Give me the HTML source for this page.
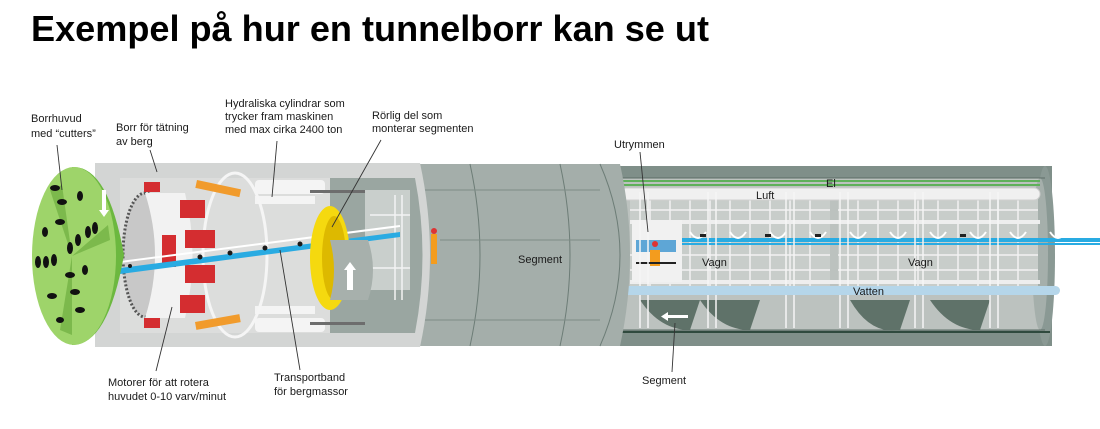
<!DOCTYPE html>
<html><head><meta charset="utf-8"><style>
html,body{margin:0;padding:0;background:#fff;width:1100px;height:429px;overflow:hidden}
svg{display:block}
text{font-family:"Liberation Sans",sans-serif;fill:#1a1a1a}
.l{font-size:11px}
</style></head><body>
<svg width="1100" height="429" viewBox="0 0 1100 429" xmlns="http://www.w3.org/2000/svg">
<text x="31" y="41" textLength="678" lengthAdjust="spacingAndGlyphs" style="font-size:36px;font-weight:bold;fill:#000">Exempel på hur en tunnelborr kan se ut</text>

<!-- back tunnel -->
<rect x="600" y="166" width="452" height="180" fill="#7f8f89"/>
<rect x="615" y="178" width="430" height="152" fill="#bcc2bf"/>
<ellipse cx="1045" cy="256" rx="10" ry="90" fill="#8a9994"/>
<ellipse cx="1040" cy="254" rx="8" ry="76" fill="#a5afab"/>
<g stroke="#5d6d67" stroke-width="1">
<line x1="615" y1="178" x2="1045" y2="178"/><line x1="615" y1="330" x2="1045" y2="330"/>
</g>
<rect x="620" y="180" width="420" height="2" fill="#5fb05a"/>
<rect x="620" y="184" width="420" height="2" fill="#5fb05a"/>
<g fill="#5f7269">
<path d="M640 300 Q660 330 690 330 L700 300Z"/><path d="M700 300 Q720 330 750 330 L760 300Z"/><path d="M850 300 Q870 335 900 330 L910 300Z"/><path d="M930 300 Q950 330 980 330 L990 300Z"/>
</g>
<rect x="630" y="192" width="200" height="100" fill="#c8cdca"/>
<rect x="838" y="192" width="200" height="100" fill="#c8cdca"/>
<g stroke="#f2f2f2" stroke-width="1.5" fill="none">
<path d="M630 210H830M630 222H830M630 255H830M630 270H830M838 210H1038M838 222H1038M838 255H1038M838 270H1038"/>
<path d="M650 192V290M670 192V290M690 192V290M710 192V290M730 192V290M750 192V290M770 192V290M790 192V290M810 192V290M858 192V290M878 192V290M898 192V290M918 192V290M938 192V290M958 192V290M978 192V290M998 192V290M1018 192V290"/>
</g>
<rect x="630" y="220" width="410" height="4" fill="#eeeeee"/>
<rect x="630" y="280" width="410" height="4" fill="#eeeeee"/>
<rect x="620" y="188" width="420" height="12" rx="6" fill="#f0f0f0" stroke="#cfcfcf"/>
<rect x="680" y="238" width="420" height="4" fill="#29abe2"/>
<rect x="680" y="243" width="420" height="2" fill="#29abe2"/>
<g stroke="#fff" stroke-width="2" fill="none">
<path d="M690 232q8 12 16 0M730 232q8 12 16 0M770 232q8 12 16 0M810 232q8 12 16 0M850 232q8 12 16 0M890 232q8 12 16 0M930 232q8 12 16 0M970 232q8 12 16 0M1010 232q8 12 16 0M1050 232q8 12 16 0"/>
</g>
<g fill="#222"><rect x="700" y="234" width="6" height="3"/><rect x="765" y="234" width="6" height="3"/><rect x="815" y="234" width="6" height="3"/><rect x="960" y="234" width="6" height="3"/></g>
<rect x="632" y="220" width="50" height="62" fill="#f1f1f1"/>
<rect x="636" y="240" width="40" height="12" fill="#5ea6d6"/>
<circle cx="655" cy="244" r="3" fill="#d33"/>
<rect x="650" y="250" width="10" height="16" fill="#f39c1e"/>
<rect x="636" y="262" width="40" height="2" fill="#222"/>
<g stroke="#f5f5f5" stroke-width="1.5">
<path d="M640 192V328M648 192V328M708 192V328M716 192V328M786 192V328M794 192V328M840 192V328M848 192V328M915 192V328M923 192V328M990 192V328M998 192V328"/>
</g>
<rect x="620" y="286" width="440" height="9" rx="4.5" fill="#b5d6ea"/>
<rect x="620" y="331" width="430" height="2" fill="#2f4a3e"/>
<path d="M668 318h20v-3h-20v-3l-7 4.5 7 4.5z" fill="#fff"/>

<!-- second cylinder -->
<path d="M420 164H620Q640 255 620 346H420Z" fill="#a4aeaa"/>
<path d="M600 164Q640 255 600 346" stroke="#6d7d77" fill="none"/>
<path d="M560 164Q580 255 560 346" stroke="#6d7d77" fill="none"/>
<path d="M470 164Q490 255 470 346" stroke="#6d7d77" fill="none"/>
<line x1="420" y1="190" x2="600" y2="190" stroke="#7e8c87"/>
<line x1="420" y1="320" x2="600" y2="320" stroke="#7e8c87"/>
<line x1="440" y1="240" x2="600" y2="240" stroke="#7e8c87"/>

<!-- front shield -->
<path d="M95 163H420Q440 255 420 347H95Z" fill="#d3d5d4"/>
<path d="M120 178H415Q425 255 415 333H120Z" fill="#dcdddc"/>
<path d="M330 178H415Q430 255 415 333H330Z" fill="#9aa6a1"/>
<rect x="365" y="190" width="45" height="100" fill="#c9cfcc"/>
<g stroke="#f3f3f3" stroke-width="1.5"><path d="M370 215H410M370 268H410M395 195V300M402 195V300"/></g>
<g fill="#f4f4f4"><rect x="255" y="180" width="70" height="14" rx="4"/><rect x="255" y="318" width="70" height="14" rx="4"/><rect x="255" y="196" width="60" height="8"/><rect x="255" y="306" width="60" height="8"/></g>
<g fill="#6d6d6d"><rect x="310" y="190" width="55" height="3"/><rect x="310" y="322" width="55" height="3"/></g>
<ellipse cx="235" cy="255" rx="32" ry="82" fill="none" stroke="#f5f5f5" stroke-width="3"/>
<ellipse cx="145" cy="255" rx="22" ry="62" fill="#c8c8c8" stroke="#555" stroke-width="3" stroke-dasharray="2 2"/>
<path d="M145 193H185Q200 255 185 318H145Q165 255 145 193Z" fill="#f2f2f2"/>
<g fill="#d42d30">
<rect x="180" y="200" width="25" height="18"/><rect x="185" y="230" width="30" height="18"/><rect x="185" y="265" width="30" height="18"/><rect x="180" y="295" width="25" height="18"/>
<rect x="162" y="235" width="14" height="32"/><rect x="144" y="182" width="16" height="10"/><rect x="144" y="318" width="16" height="10"/>
</g>
<g fill="#f19b2c"><rect x="197" y="180" width="45" height="8" transform="rotate(12 197 180)"/><rect x="195" y="322" width="45" height="8" transform="rotate(-10 195 322)"/></g>
<path d="M120 268L400 232L400 237L120 274Z" fill="#29abe2"/>
<path d="M120 262L400 226" stroke="#fff" stroke-width="2"/>
<g fill="#1a1a1a"><circle cx="200" cy="257" r="2.5"/><circle cx="230" cy="253" r="2.5"/><circle cx="265" cy="248" r="2.5"/><circle cx="300" cy="244" r="2.5"/><circle cx="130" cy="266" r="2"/></g>
<ellipse cx="330" cy="258" rx="20" ry="52" fill="#f5d90f"/>
<ellipse cx="334" cy="258" rx="12" ry="42" fill="#ddb900"/>
<path d="M330 240H368Q378 270 368 300H330Q338 270 330 240Z" fill="#a7b0ac"/>
<path d="M347 290V270h-3l6-8 6 8h-3v20z" fill="#fff"/>
<rect x="431" y="234" width="6" height="30" fill="#f39c1e"/><circle cx="434" cy="231" r="3" fill="#d33"/>
<!-- green cutter head -->
<path d="M72 167Q108 165 124 255Q108 345 72 345Z" fill="#6cb83f"/>
<ellipse cx="74" cy="256" rx="42" ry="89" fill="#9ed46a"/>
<g fill="#7cb94c"><path d="M72 256L50 190L62 185Z"/><path d="M72 256L108 225L110 240Z"/><path d="M72 256L60 330L72 335Z"/></g>
<g fill="#111">
<ellipse cx="55" cy="188" rx="5" ry="3"/><ellipse cx="62" cy="202" rx="5" ry="3"/><ellipse cx="80" cy="196" rx="3" ry="5"/><ellipse cx="45" cy="232" rx="3" ry="5"/><ellipse cx="60" cy="222" rx="5" ry="3"/>
<ellipse cx="88" cy="232" rx="3" ry="6"/><ellipse cx="95" cy="228" rx="3" ry="6"/><ellipse cx="78" cy="240" rx="3" ry="6"/><ellipse cx="70" cy="248" rx="3" ry="6"/>
<ellipse cx="38" cy="262" rx="3" ry="6"/><ellipse cx="46" cy="262" rx="3" ry="6"/><ellipse cx="54" cy="260" rx="3" ry="6"/>
<ellipse cx="70" cy="275" rx="5" ry="3"/><ellipse cx="85" cy="270" rx="3" ry="5"/><ellipse cx="52" cy="296" rx="5" ry="3"/><ellipse cx="75" cy="292" rx="5" ry="3"/><ellipse cx="80" cy="310" rx="5" ry="3"/><ellipse cx="60" cy="320" rx="4" ry="3"/>
</g>
<path d="M102 190v20h-3l5 7 5-7h-3v-20z" fill="#fff"/>

<g stroke="#333" stroke-width="0.9" fill="none">
<path d="M57 145L62 190"/><path d="M150 150L157 172"/><path d="M277 141L272 197"/><path d="M381 140L332 227"/><path d="M640 152L648 232"/><path d="M672 372L675 323"/><path d="M156 371L172 307"/><path d="M300 370L280 250"/>
</g>

<text class="l" x="31" y="122">Borrhuvud</text><text class="l" x="31" y="137">med “cutters”</text>
<text class="l" x="116" y="131">Borr för tätning</text><text class="l" x="116" y="145">av berg</text>
<text class="l" x="225" y="107">Hydraliska cylindrar som</text><text class="l" x="225" y="120">trycker fram maskinen</text><text class="l" x="225" y="133">med max cirka 2400 ton</text>
<text class="l" x="372" y="119">Rörlig del som</text><text class="l" x="372" y="132">monterar segmenten</text>
<text class="l" x="614" y="148">Utrymmen</text>
<text class="l" x="518" y="263">Segment</text>
<text class="l" x="826" y="187">El</text>
<text class="l" x="756" y="199">Luft</text>
<text class="l" x="702" y="266">Vagn</text><text class="l" x="908" y="266">Vagn</text>
<text class="l" x="853" y="295">Vatten</text>
<text class="l" x="642" y="384">Segment</text>
<text class="l" x="108" y="386">Motorer för att rotera</text><text class="l" x="108" y="400">huvudet 0-10 varv/minut</text>
<text class="l" x="274" y="381">Transportband</text><text class="l" x="274" y="395">för bergmassor</text>
</svg>
</body></html>
